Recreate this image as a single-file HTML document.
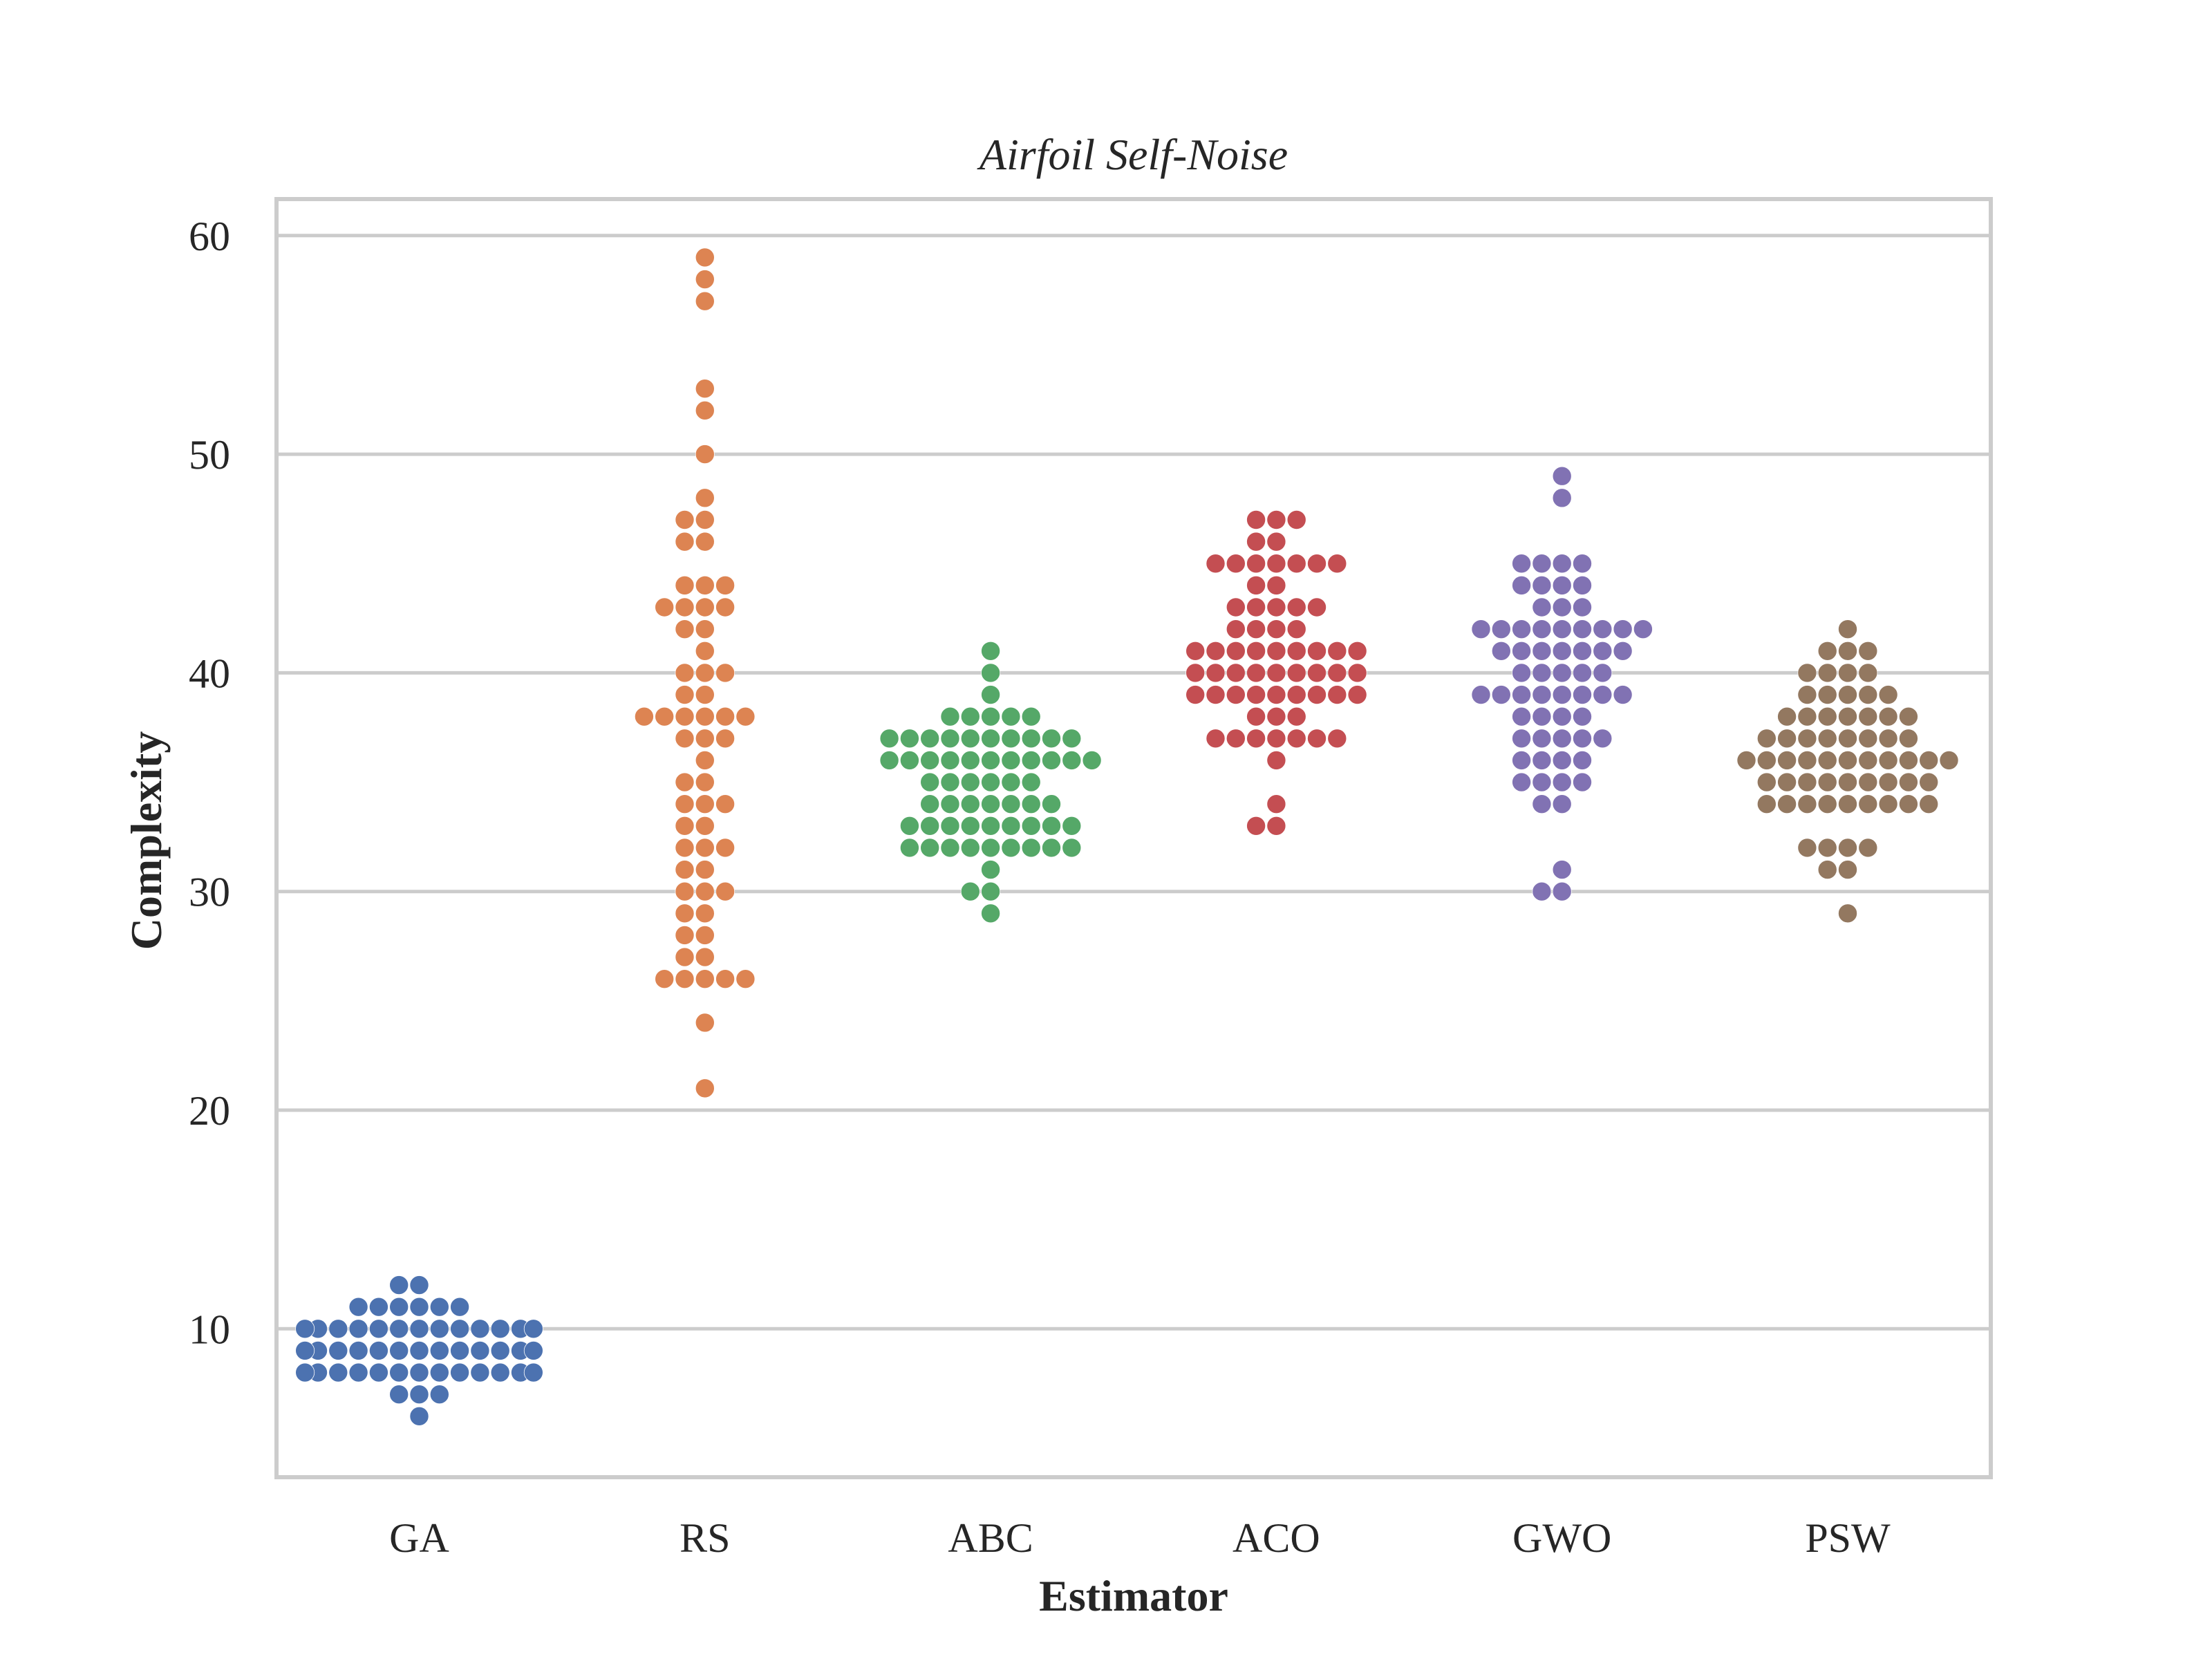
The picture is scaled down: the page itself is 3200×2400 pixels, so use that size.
<!DOCTYPE html>
<html><head><meta charset="utf-8">
<style>
html,body{margin:0;padding:0;background:#fff;}
svg{display:block;}
text{font-family:"Liberation Serif",serif;fill:#262626;}
</style></head>
<body>
<svg id="chart" width="3200" height="2400" viewBox="0 0 3200 2400" xmlns="http://www.w3.org/2000/svg">
<rect x="0" y="0" width="3200" height="2400" fill="#fff"/>
<g id="grid"></g>
<g id="dots"></g>
<rect x="400" y="288" width="2480" height="1849" fill="none" stroke="#cccccc" stroke-width="6"/>
<g id="yticks"></g>
<g id="xticks"></g>
<text x="1640" y="245" font-size="64" font-style="italic" text-anchor="middle">Airfoil Self-Noise</text>
<text x="1640" y="2330" font-size="64" font-weight="bold" text-anchor="middle">Estimator</text>
<text x="0" y="0" font-size="64" font-weight="bold" text-anchor="middle" transform="translate(233,1216) rotate(-90)">Complexity</text>
</svg>
<script>
const categories = ["GA","RS","ABC","ACO","GWO","PSW"];
const colors = ["#4c72b0","#dd8452","#55a868","#c44e52","#8172b3","#937860"];
const yTicks = [10,20,30,40,50,60];
const gaValues = [12,12,11,11,11,11,11,11,10,10,10,10,10,10,10,10,10,10,10,10,10,9,9,9,9,9,9,9,9,9,9,9,9,9,8,8,8,8,8,8,8,8,8,8,8,8,8,7,7,7,6];
const rsValues = [59,58,57,53,52,50,48,47,47,46,46,44,44,44,43,43,43,43,42,42,41,40,40,40,39,39,38,38,38,38,38,38,37,37,37,36,35,35,34,34,34,33,33,32,32,32,31,31,30,30,30,29,29,28,28,27,27,26,26,26,26,26,24,21];
const abcValues = [41,40,39,38,38,38,38,38,37,37,37,37,37,37,37,37,37,37,36,36,36,36,36,36,36,36,36,36,36,35,35,35,35,35,35,34,34,34,34,34,34,34,33,33,33,33,33,33,33,33,33,32,32,32,32,32,32,32,32,32,31,30,30,29];
const acoValues = [47,47,47,46,46,45,45,45,45,45,45,45,44,44,43,43,43,43,43,42,42,42,42,41,41,41,41,41,41,41,41,41,40,40,40,40,40,40,40,40,40,39,39,39,39,39,39,39,39,39,38,38,38,37,37,37,37,37,37,37,36,34,33,33];
const gwoValues = [49,48,45,45,45,45,44,44,44,44,43,43,43,42,42,42,42,42,42,42,42,42,41,41,41,41,41,41,41,40,40,40,40,40,39,39,39,39,39,39,39,39,38,38,38,38,37,37,37,37,37,36,36,36,36,35,35,35,35,34,34,31,30,30];
const pswValues = [42,41,41,41,40,40,40,40,39,39,39,39,39,38,38,38,38,38,38,38,37,37,37,37,37,37,37,37,36,36,36,36,36,36,36,36,36,36,36,35,35,35,35,35,35,35,35,35,34,34,34,34,34,34,34,34,34,32,32,32,32,31,31,29];
const series = [gaValues, rsValues, abcValues, acoValues, gwoValues, pswValues];

const NS = "http://www.w3.org/2000/svg";
const X0 = 606.5, XSTEP = 413.3, DX = 29.3, R = 13.6;
const Y60 = 340.8, YUNIT = 31.63;
function yScale(v){ return Y60 + (60 - v) * YUNIT; }
function xScale(i){ return X0 + i * XSTEP; }

const grid = document.getElementById('grid');
const yt = document.getElementById('yticks');
yTicks.forEach(t => {
  const l = document.createElementNS(NS,'line');
  
  
  l.setAttribute('x1', 400); l.setAttribute('x2', 2880);
  l.setAttribute('y1', yScale(t)); l.setAttribute('y2', yScale(t));
  l.setAttribute('stroke', '#cccccc'); l.setAttribute('stroke-width', 5);
  grid.appendChild(l);
  const tx = document.createElementNS(NS,'text');
  
  
  tx.setAttribute('x', 333); tx.setAttribute('y', yScale(t) + 21);
  tx.setAttribute('font-size', 60); tx.setAttribute('text-anchor', 'end');
  tx.textContent = t;
  yt.appendChild(tx);
});

const xt = document.getElementById('xticks');
categories.forEach((c, i) => {
  const tx = document.createElementNS(NS,'text');
  
  
  tx.setAttribute('x', xScale(i)); tx.setAttribute('y', 2245);
  tx.setAttribute('font-size', 60); tx.setAttribute('text-anchor', 'middle');
  tx.textContent = c;
  xt.appendChild(tx);
});

const dots = document.getElementById('dots');
const lim = 0.4 * XSTEP;
series.forEach((vals, i) => {
  const g = document.createElementNS(NS,'g');
  
  
  const counts = {};
  vals.forEach(v => {
    const k = counts[v] || 0;
    counts[v] = k + 1;
    let off = k === 0 ? 0 : (k % 2 === 1 ? -Math.ceil(k/2) : Math.ceil(k/2));
    let dx = off * DX;
    if (dx > lim) dx = lim;
    if (dx < -lim) dx = -lim;
    const c = document.createElementNS(NS,'circle');
    
    
    c.setAttribute('cx', xScale(i) + dx);
    c.setAttribute('cy', yScale(v));
    c.setAttribute('r', R);
    c.setAttribute('fill', colors[i]);
    c.setAttribute('stroke', '#ffffff');
    c.setAttribute('stroke-width', 0.8);
    g.appendChild(c);
  });
  dots.appendChild(g);
});
</script>
</body></html>
